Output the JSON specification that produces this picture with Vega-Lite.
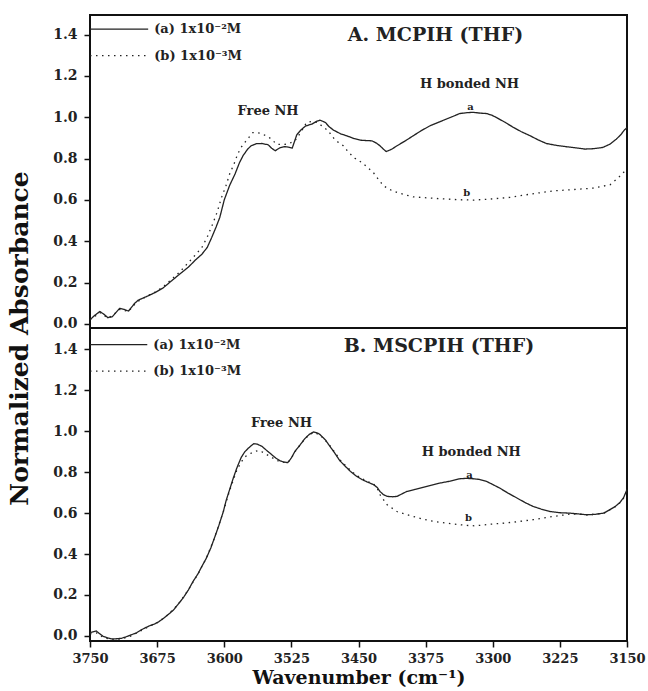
{
  "$schema": "https://vega.github.io/schema/vega-lite/v6.json",
  "background": "white",
  "padding": {"left": 6, "top": 14, "right": 2, "bottom": 2},
  "spacing": 0,
  "bounds": "flush",
  "config": {
    "view": {"stroke": "#111", "strokeWidth": 2},
    "axis": {"domain": false, "grid": false, "labelFont": "DejaVu Serif", "labelFontWeight": "bold", "labelFontSize": 14, "labelColor": "#222", "tickColor": "#111", "tickWidth": 1.5, "titleFont": "DejaVu Serif", "titleFontWeight": "bold", "titleColor": "#111", "labelOverlap": false, "labelFlush": false},
    "text": {"font": "DejaVu Serif", "fontWeight": "bold", "color": "#222"}
  },
  "datasets": {
    "top": [
      {"w":3750,"v":0.02,"series":"a"},{"w":3745,"v":0.04,"series":"a"},{"w":3739,"v":0.06,"series":"a"},{"w":3734,"v":0.045,"series":"a"},{"w":3730,"v":0.03,"series":"a"},{"w":3725,"v":0.035,"series":"a"},{"w":3717,"v":0.075,"series":"a"},{"w":3712,"v":0.07,"series":"a"},{"w":3707,"v":0.062,"series":"a"},{"w":3700,"v":0.1,"series":"a"},{"w":3696,"v":0.115,"series":"a"},{"w":3688,"v":0.13,"series":"a"},{"w":3678,"v":0.15,"series":"a"},{"w":3668,"v":0.175,"series":"a"},{"w":3659,"v":0.208,"series":"a"},{"w":3650,"v":0.24,"series":"a"},{"w":3640,"v":0.275,"series":"a"},{"w":3632,"v":0.31,"series":"a"},{"w":3625,"v":0.337,"series":"a"},{"w":3619,"v":0.37,"series":"a"},{"w":3614,"v":0.418,"series":"a"},{"w":3609,"v":0.47,"series":"a"},{"w":3605,"v":0.515,"series":"a"},{"w":3600,"v":0.6,"series":"a"},{"w":3594,"v":0.67,"series":"a"},{"w":3588,"v":0.725,"series":"a"},{"w":3583,"v":0.78,"series":"a"},{"w":3579,"v":0.814,"series":"a"},{"w":3574,"v":0.845,"series":"a"},{"w":3570,"v":0.862,"series":"a"},{"w":3564,"v":0.872,"series":"a"},{"w":3558,"v":0.873,"series":"a"},{"w":3551,"v":0.867,"series":"a"},{"w":3547,"v":0.85,"series":"a"},{"w":3543,"v":0.838,"series":"a"},{"w":3538,"v":0.852,"series":"a"},{"w":3533,"v":0.858,"series":"a"},{"w":3529,"v":0.856,"series":"a"},{"w":3524,"v":0.851,"series":"a"},{"w":3519,"v":0.915,"series":"a"},{"w":3514,"v":0.94,"series":"a"},{"w":3509,"v":0.958,"series":"a"},{"w":3502,"v":0.967,"series":"a"},{"w":3497,"v":0.98,"series":"a"},{"w":3493,"v":0.986,"series":"a"},{"w":3487,"v":0.975,"series":"a"},{"w":3483,"v":0.955,"series":"a"},{"w":3478,"v":0.938,"series":"a"},{"w":3470,"v":0.92,"series":"a"},{"w":3463,"v":0.91,"series":"a"},{"w":3455,"v":0.897,"series":"a"},{"w":3448,"v":0.889,"series":"a"},{"w":3440,"v":0.887,"series":"a"},{"w":3435,"v":0.886,"series":"a"},{"w":3430,"v":0.875,"series":"a"},{"w":3426,"v":0.862,"series":"a"},{"w":3422,"v":0.845,"series":"a"},{"w":3419,"v":0.834,"series":"a"},{"w":3413,"v":0.845,"series":"a"},{"w":3407,"v":0.862,"series":"a"},{"w":3398,"v":0.885,"series":"a"},{"w":3389,"v":0.91,"series":"a"},{"w":3380,"v":0.935,"series":"a"},{"w":3370,"v":0.959,"series":"a"},{"w":3361,"v":0.975,"series":"a"},{"w":3352,"v":0.991,"series":"a"},{"w":3344,"v":1.005,"series":"a"},{"w":3337,"v":1.018,"series":"a"},{"w":3329,"v":1.022,"series":"a"},{"w":3322,"v":1.024,"series":"a"},{"w":3314,"v":1.02,"series":"a"},{"w":3307,"v":1.018,"series":"a"},{"w":3301,"v":1.01,"series":"a"},{"w":3296,"v":0.999,"series":"a"},{"w":3286,"v":0.975,"series":"a"},{"w":3277,"v":0.951,"series":"a"},{"w":3268,"v":0.93,"series":"a"},{"w":3258,"v":0.91,"series":"a"},{"w":3249,"v":0.89,"series":"a"},{"w":3240,"v":0.873,"series":"a"},{"w":3229,"v":0.864,"series":"a"},{"w":3217,"v":0.857,"series":"a"},{"w":3207,"v":0.852,"series":"a"},{"w":3197,"v":0.846,"series":"a"},{"w":3187,"v":0.848,"series":"a"},{"w":3177,"v":0.854,"series":"a"},{"w":3169,"v":0.87,"series":"a"},{"w":3162,"v":0.894,"series":"a"},{"w":3157,"v":0.915,"series":"a"},{"w":3153,"v":0.938,"series":"a"},{"w":3150,"v":0.95,"series":"a"},
      {"w":3750,"v":0.02,"series":"b"},{"w":3745,"v":0.035,"series":"b"},{"w":3739,"v":0.055,"series":"b"},{"w":3734,"v":0.04,"series":"b"},{"w":3730,"v":0.028,"series":"b"},{"w":3725,"v":0.04,"series":"b"},{"w":3717,"v":0.07,"series":"b"},{"w":3712,"v":0.065,"series":"b"},{"w":3707,"v":0.06,"series":"b"},{"w":3700,"v":0.095,"series":"b"},{"w":3696,"v":0.11,"series":"b"},{"w":3688,"v":0.13,"series":"b"},{"w":3678,"v":0.152,"series":"b"},{"w":3668,"v":0.18,"series":"b"},{"w":3659,"v":0.215,"series":"b"},{"w":3650,"v":0.25,"series":"b"},{"w":3640,"v":0.297,"series":"b"},{"w":3632,"v":0.335,"series":"b"},{"w":3625,"v":0.37,"series":"b"},{"w":3619,"v":0.42,"series":"b"},{"w":3613,"v":0.483,"series":"b"},{"w":3608,"v":0.54,"series":"b"},{"w":3603,"v":0.612,"series":"b"},{"w":3598,"v":0.67,"series":"b"},{"w":3594,"v":0.725,"series":"b"},{"w":3589,"v":0.775,"series":"b"},{"w":3585,"v":0.822,"series":"b"},{"w":3581,"v":0.855,"series":"b"},{"w":3577,"v":0.878,"series":"b"},{"w":3572,"v":0.905,"series":"b"},{"w":3568,"v":0.926,"series":"b"},{"w":3563,"v":0.925,"series":"b"},{"w":3559,"v":0.922,"series":"b"},{"w":3551,"v":0.906,"series":"b"},{"w":3546,"v":0.89,"series":"b"},{"w":3542,"v":0.87,"series":"b"},{"w":3536,"v":0.868,"series":"b"},{"w":3529,"v":0.87,"series":"b"},{"w":3521,"v":0.886,"series":"b"},{"w":3514,"v":0.93,"series":"b"},{"w":3508,"v":0.975,"series":"b"},{"w":3502,"v":0.98,"series":"b"},{"w":3496,"v":0.975,"series":"b"},{"w":3490,"v":0.955,"series":"b"},{"w":3484,"v":0.935,"series":"b"},{"w":3476,"v":0.889,"series":"b"},{"w":3467,"v":0.862,"series":"b"},{"w":3461,"v":0.83,"series":"b"},{"w":3454,"v":0.802,"series":"b"},{"w":3446,"v":0.78,"series":"b"},{"w":3439,"v":0.754,"series":"b"},{"w":3433,"v":0.73,"series":"b"},{"w":3428,"v":0.701,"series":"b"},{"w":3422,"v":0.668,"series":"b"},{"w":3415,"v":0.65,"series":"b"},{"w":3407,"v":0.636,"series":"b"},{"w":3398,"v":0.625,"series":"b"},{"w":3389,"v":0.615,"series":"b"},{"w":3380,"v":0.612,"series":"b"},{"w":3370,"v":0.609,"series":"b"},{"w":3360,"v":0.606,"series":"b"},{"w":3352,"v":0.604,"series":"b"},{"w":3337,"v":0.601,"series":"b"},{"w":3322,"v":0.599,"series":"b"},{"w":3303,"v":0.604,"series":"b"},{"w":3281,"v":0.612,"series":"b"},{"w":3258,"v":0.628,"series":"b"},{"w":3232,"v":0.644,"series":"b"},{"w":3210,"v":0.65,"series":"b"},{"w":3188,"v":0.657,"series":"b"},{"w":3169,"v":0.673,"series":"b"},{"w":3160,"v":0.706,"series":"b"},{"w":3152,"v":0.741,"series":"b"},{"w":3150,"v":0.745,"series":"b"}
    ],
    "bot": [
      {"w":3750,"v":0.015,"series":"a"},{"w":3748,"v":0.018,"series":"a"},{"w":3743,"v":0.024,"series":"a"},{"w":3739,"v":0.01,"series":"a"},{"w":3735,"v":-0.003,"series":"a"},{"w":3730,"v":-0.01,"series":"a"},{"w":3726,"v":-0.015,"series":"a"},{"w":3720,"v":-0.014,"series":"a"},{"w":3715,"v":-0.012,"series":"a"},{"w":3710,"v":-0.005,"series":"a"},{"w":3704,"v":0.005,"series":"a"},{"w":3698,"v":0.015,"series":"a"},{"w":3693,"v":0.029,"series":"a"},{"w":3688,"v":0.04,"series":"a"},{"w":3683,"v":0.05,"series":"a"},{"w":3678,"v":0.058,"series":"a"},{"w":3674,"v":0.067,"series":"a"},{"w":3668,"v":0.085,"series":"a"},{"w":3663,"v":0.103,"series":"a"},{"w":3657,"v":0.125,"series":"a"},{"w":3652,"v":0.152,"series":"a"},{"w":3646,"v":0.185,"series":"a"},{"w":3640,"v":0.225,"series":"a"},{"w":3635,"v":0.265,"series":"a"},{"w":3629,"v":0.306,"series":"a"},{"w":3625,"v":0.34,"series":"a"},{"w":3620,"v":0.38,"series":"a"},{"w":3615,"v":0.43,"series":"a"},{"w":3611,"v":0.478,"series":"a"},{"w":3606,"v":0.54,"series":"a"},{"w":3601,"v":0.608,"series":"a"},{"w":3598,"v":0.66,"series":"a"},{"w":3594,"v":0.715,"series":"a"},{"w":3590,"v":0.77,"series":"a"},{"w":3586,"v":0.82,"series":"a"},{"w":3581,"v":0.873,"series":"a"},{"w":3577,"v":0.9,"series":"a"},{"w":3573,"v":0.918,"series":"a"},{"w":3567,"v":0.94,"series":"a"},{"w":3563,"v":0.937,"series":"a"},{"w":3558,"v":0.927,"series":"a"},{"w":3553,"v":0.908,"series":"a"},{"w":3547,"v":0.886,"series":"a"},{"w":3542,"v":0.868,"series":"a"},{"w":3538,"v":0.857,"series":"a"},{"w":3534,"v":0.85,"series":"a"},{"w":3529,"v":0.847,"series":"a"},{"w":3525,"v":0.87,"series":"a"},{"w":3521,"v":0.902,"series":"a"},{"w":3515,"v":0.935,"series":"a"},{"w":3510,"v":0.964,"series":"a"},{"w":3505,"v":0.985,"series":"a"},{"w":3500,"v":0.997,"series":"a"},{"w":3495,"v":0.99,"series":"a"},{"w":3493,"v":0.984,"series":"a"},{"w":3487,"v":0.958,"series":"a"},{"w":3482,"v":0.927,"series":"a"},{"w":3476,"v":0.89,"series":"a"},{"w":3471,"v":0.857,"series":"a"},{"w":3465,"v":0.83,"series":"a"},{"w":3459,"v":0.804,"series":"a"},{"w":3453,"v":0.783,"series":"a"},{"w":3446,"v":0.764,"series":"a"},{"w":3440,"v":0.752,"series":"a"},{"w":3433,"v":0.739,"series":"a"},{"w":3429,"v":0.725,"series":"a"},{"w":3426,"v":0.706,"series":"a"},{"w":3422,"v":0.69,"series":"a"},{"w":3418,"v":0.682,"series":"a"},{"w":3412,"v":0.68,"series":"a"},{"w":3407,"v":0.682,"series":"a"},{"w":3401,"v":0.695,"series":"a"},{"w":3396,"v":0.706,"series":"a"},{"w":3387,"v":0.716,"series":"a"},{"w":3378,"v":0.726,"series":"a"},{"w":3368,"v":0.737,"series":"a"},{"w":3359,"v":0.747,"series":"a"},{"w":3348,"v":0.756,"series":"a"},{"w":3337,"v":0.768,"series":"a"},{"w":3329,"v":0.77,"series":"a"},{"w":3322,"v":0.768,"series":"a"},{"w":3315,"v":0.765,"series":"a"},{"w":3307,"v":0.755,"series":"a"},{"w":3300,"v":0.74,"series":"a"},{"w":3292,"v":0.722,"series":"a"},{"w":3283,"v":0.698,"series":"a"},{"w":3273,"v":0.674,"series":"a"},{"w":3264,"v":0.652,"series":"a"},{"w":3255,"v":0.633,"series":"a"},{"w":3246,"v":0.62,"series":"a"},{"w":3236,"v":0.608,"series":"a"},{"w":3225,"v":0.602,"series":"a"},{"w":3214,"v":0.6,"series":"a"},{"w":3204,"v":0.596,"series":"a"},{"w":3195,"v":0.592,"series":"a"},{"w":3186,"v":0.594,"series":"a"},{"w":3176,"v":0.6,"series":"a"},{"w":3170,"v":0.615,"series":"a"},{"w":3163,"v":0.633,"series":"a"},{"w":3158,"v":0.652,"series":"a"},{"w":3154,"v":0.674,"series":"a"},{"w":3150,"v":0.715,"series":"a"},
      {"w":3750,"v":0.01,"series":"b"},{"w":3743,"v":0.015,"series":"b"},{"w":3735,"v":-0.008,"series":"b"},{"w":3726,"v":-0.018,"series":"b"},{"w":3715,"v":-0.015,"series":"b"},{"w":3704,"v":0.0,"series":"b"},{"w":3693,"v":0.025,"series":"b"},{"w":3683,"v":0.048,"series":"b"},{"w":3674,"v":0.066,"series":"b"},{"w":3663,"v":0.103,"series":"b"},{"w":3652,"v":0.152,"series":"b"},{"w":3640,"v":0.225,"series":"b"},{"w":3629,"v":0.306,"series":"b"},{"w":3620,"v":0.38,"series":"b"},{"w":3611,"v":0.478,"series":"b"},{"w":3601,"v":0.608,"series":"b"},{"w":3594,"v":0.71,"series":"b"},{"w":3586,"v":0.81,"series":"b"},{"w":3581,"v":0.85,"series":"b"},{"w":3577,"v":0.875,"series":"b"},{"w":3573,"v":0.886,"series":"b"},{"w":3567,"v":0.9,"series":"b"},{"w":3562,"v":0.906,"series":"b"},{"w":3558,"v":0.9,"series":"b"},{"w":3552,"v":0.885,"series":"b"},{"w":3546,"v":0.87,"series":"b"},{"w":3540,"v":0.856,"series":"b"},{"w":3534,"v":0.849,"series":"b"},{"w":3529,"v":0.847,"series":"b"},{"w":3525,"v":0.868,"series":"b"},{"w":3521,"v":0.9,"series":"b"},{"w":3515,"v":0.935,"series":"b"},{"w":3510,"v":0.962,"series":"b"},{"w":3505,"v":0.983,"series":"b"},{"w":3500,"v":0.995,"series":"b"},{"w":3493,"v":0.982,"series":"b"},{"w":3487,"v":0.955,"series":"b"},{"w":3482,"v":0.93,"series":"b"},{"w":3476,"v":0.895,"series":"b"},{"w":3471,"v":0.862,"series":"b"},{"w":3465,"v":0.835,"series":"b"},{"w":3459,"v":0.81,"series":"b"},{"w":3453,"v":0.787,"series":"b"},{"w":3446,"v":0.768,"series":"b"},{"w":3440,"v":0.755,"series":"b"},{"w":3433,"v":0.742,"series":"b"},{"w":3429,"v":0.72,"series":"b"},{"w":3426,"v":0.69,"series":"b"},{"w":3418,"v":0.641,"series":"b"},{"w":3407,"v":0.608,"series":"b"},{"w":3398,"v":0.595,"series":"b"},{"w":3389,"v":0.584,"series":"b"},{"w":3380,"v":0.573,"series":"b"},{"w":3370,"v":0.563,"series":"b"},{"w":3360,"v":0.556,"series":"b"},{"w":3352,"v":0.551,"series":"b"},{"w":3340,"v":0.545,"series":"b"},{"w":3329,"v":0.54,"series":"b"},{"w":3320,"v":0.538,"series":"b"},{"w":3310,"v":0.542,"series":"b"},{"w":3303,"v":0.546,"series":"b"},{"w":3290,"v":0.55,"series":"b"},{"w":3277,"v":0.556,"series":"b"},{"w":3266,"v":0.562,"series":"b"},{"w":3255,"v":0.568,"series":"b"},{"w":3244,"v":0.576,"series":"b"},{"w":3232,"v":0.584,"series":"b"},{"w":3222,"v":0.59,"series":"b"},{"w":3214,"v":0.595,"series":"b"},{"w":3204,"v":0.595,"series":"b"},{"w":3195,"v":0.592,"series":"b"},{"w":3186,"v":0.594,"series":"b"},{"w":3176,"v":0.6,"series":"b"},{"w":3170,"v":0.614,"series":"b"},{"w":3163,"v":0.632,"series":"b"},{"w":3158,"v":0.65,"series":"b"},{"w":3154,"v":0.672,"series":"b"},{"w":3150,"v":0.712,"series":"b"}
    ],
    "topLeg": [
      {"w":3750,"w2":3685,"v":1.427,"series":"a","text":"(a) 1x10⁻²M"},
      {"w":3750,"w2":3685,"v":1.298,"series":"b","text":"(b) 1x10⁻³M"}
    ],
    "botLeg": [
      {"w":3750,"w2":3686,"v":1.424,"series":"a","text":"(a) 1x10⁻²M"},
      {"w":3750,"w2":3686,"v":1.294,"series":"b","text":"(b) 1x10⁻³M"}
    ],
    "topNotes": [
      {"w":3364,"v":1.40,"text":"A. MCPIH (THF)","kind":"title"},
      {"w":3551,"v":1.03,"text":"Free NH","kind":"note"},
      {"w":3326,"v":1.16,"text":"H bonded NH","kind":"note"},
      {"w":3325,"v":1.05,"text":"a","kind":"tag"},
      {"w":3329,"v":0.635,"text":"b","kind":"tag"}
    ],
    "botNotes": [
      {"w":3360,"v":1.416,"text":"B. MSCPIH (THF)","kind":"title"},
      {"w":3536,"v":1.04,"text":"Free NH","kind":"note"},
      {"w":3324,"v":0.90,"text":"H bonded NH","kind":"note"},
      {"w":3326,"v":0.785,"text":"a","kind":"tag"},
      {"w":3327,"v":0.575,"text":"b","kind":"tag"}
    ]
  },
  "vconcat": [
    {
      "width": 537,
      "height": 313,
      "layer": [
        {
          "data": {"name": "top"},
          "mark": {"type": "line", "strokeWidth": 1.3, "color": "#222"},
          "encoding": {
            "x": {"field": "w", "type": "quantitative", "scale": {"domain": [3150, 3750], "reverse": true, "nice": false, "zero": false}, "axis": null},
            "y": {"field": "v", "type": "quantitative", "scale": {"domain": [-0.02, 1.495], "nice": false, "zero": false},
              "axis": {"values": [0,0.1,0.2,0.3,0.4,0.5,0.6,0.7,0.8,0.9,1,1.1,1.2,1.3,1.4],
                "labelExpr": "round(datum.value*10) % 2 == 0 ? format(datum.value, '.1f') : ''",
                "tickSize": {"condition": {"test": "round(datum.value*10) % 2 == 0", "value": 6}, "value": 3.5},
                "labelPadding": 7,
                "title": "Normalized Absorbance", "titleFontSize": 25, "titleY": 323, "titlePadding": 20}},
            "strokeDash": {"field": "series", "type": "nominal", "scale": {"domain": ["a","b"], "range": [[1,0],[1.5,4.5]]}, "legend": null}
          }
        },
        {
          "data": {"name": "topLeg"},
          "mark": {"type": "rule", "strokeWidth": 1.3, "color": "#222"},
          "encoding": {
            "x": {"field": "w", "type": "quantitative", "axis": null},
            "x2": {"field": "w2"},
            "y": {"field": "v", "type": "quantitative"},
            "strokeDash": {"field": "series", "type": "nominal", "legend": null}
          }
        },
        {
          "data": {"name": "topLeg"},
          "mark": {"type": "text", "align": "left", "baseline": "middle", "fontSize": 13, "dx": 6},
          "encoding": {
            "x": {"field": "w2", "type": "quantitative", "axis": null},
            "y": {"field": "v", "type": "quantitative"},
            "text": {"field": "text"}
          }
        },
        {
          "data": {"name": "topNotes"},
          "transform": [{"filter": "datum.kind == 'title'"}],
          "mark": {"type": "text", "align": "center", "baseline": "middle", "fontSize": 19},
          "encoding": {
            "x": {"field": "w", "type": "quantitative", "axis": null},
            "y": {"field": "v", "type": "quantitative"},
            "text": {"field": "text"}
          }
        },
        {
          "data": {"name": "topNotes"},
          "transform": [{"filter": "datum.kind == 'note'"}],
          "mark": {"type": "text", "align": "center", "baseline": "middle", "fontSize": 13},
          "encoding": {
            "x": {"field": "w", "type": "quantitative", "axis": null},
            "y": {"field": "v", "type": "quantitative"},
            "text": {"field": "text"}
          }
        },
        {
          "data": {"name": "topNotes"},
          "transform": [{"filter": "datum.kind == 'tag'"}],
          "mark": {"type": "text", "align": "center", "baseline": "middle", "fontSize": 10},
          "encoding": {
            "x": {"field": "w", "type": "quantitative", "axis": null},
            "y": {"field": "v", "type": "quantitative"},
            "text": {"field": "text"}
          }
        }
      ]
    },
    {
      "width": 537,
      "height": 313,
      "layer": [
        {
          "data": {"name": "bot"},
          "mark": {"type": "line", "strokeWidth": 1.3, "color": "#222"},
          "encoding": {
            "x": {"field": "w", "type": "quantitative", "scale": {"domain": [3150, 3750], "reverse": true, "nice": false, "zero": false},
              "axis": {"values": [3750,3712.5,3675,3637.5,3600,3562.5,3525,3487.5,3450,3412.5,3375,3337.5,3300,3262.5,3225,3187.5,3150],
                "labelExpr": "(3750 - datum.value) % 75 == 0 ? format(datum.value, 'd') : ''",
                "tickSize": {"condition": {"test": "(3750 - datum.value) % 75 == 0", "value": 6}, "value": 3.5},
                "labelPadding": 5, "labelFontSize": 13,
                "title": "Wavenumber (cm⁻¹)", "titleFontSize": 19, "titlePadding": 3}},
            "y": {"field": "v", "type": "quantitative", "scale": {"domain": [-0.025, 1.505], "nice": false, "zero": false},
              "axis": {"values": [0,0.1,0.2,0.3,0.4,0.5,0.6,0.7,0.8,0.9,1,1.1,1.2,1.3,1.4],
                "labelExpr": "round(datum.value*10) % 2 == 0 ? format(datum.value, '.1f') : ''",
                "tickSize": {"condition": {"test": "round(datum.value*10) % 2 == 0", "value": 6}, "value": 3.5},
                "labelPadding": 7, "title": null}},
            "strokeDash": {"field": "series", "type": "nominal", "scale": {"domain": ["a","b"], "range": [[1,0],[1.5,4.5]]}, "legend": null}
          }
        },
        {
          "data": {"name": "botLeg"},
          "mark": {"type": "rule", "strokeWidth": 1.3, "color": "#222"},
          "encoding": {
            "x": {"field": "w", "type": "quantitative"},
            "x2": {"field": "w2"},
            "y": {"field": "v", "type": "quantitative"},
            "strokeDash": {"field": "series", "type": "nominal", "legend": null}
          }
        },
        {
          "data": {"name": "botLeg"},
          "mark": {"type": "text", "align": "left", "baseline": "middle", "fontSize": 13, "dx": 6},
          "encoding": {
            "x": {"field": "w2", "type": "quantitative"},
            "y": {"field": "v", "type": "quantitative"},
            "text": {"field": "text"}
          }
        },
        {
          "data": {"name": "botNotes"},
          "transform": [{"filter": "datum.kind == 'title'"}],
          "mark": {"type": "text", "align": "center", "baseline": "middle", "fontSize": 19},
          "encoding": {
            "x": {"field": "w", "type": "quantitative"},
            "y": {"field": "v", "type": "quantitative"},
            "text": {"field": "text"}
          }
        },
        {
          "data": {"name": "botNotes"},
          "transform": [{"filter": "datum.kind == 'note'"}],
          "mark": {"type": "text", "align": "center", "baseline": "middle", "fontSize": 13},
          "encoding": {
            "x": {"field": "w", "type": "quantitative"},
            "y": {"field": "v", "type": "quantitative"},
            "text": {"field": "text"}
          }
        },
        {
          "data": {"name": "botNotes"},
          "transform": [{"filter": "datum.kind == 'tag'"}],
          "mark": {"type": "text", "align": "center", "baseline": "middle", "fontSize": 10},
          "encoding": {
            "x": {"field": "w", "type": "quantitative"},
            "y": {"field": "v", "type": "quantitative"},
            "text": {"field": "text"}
          }
        }
      ]
    }
  ]
}
